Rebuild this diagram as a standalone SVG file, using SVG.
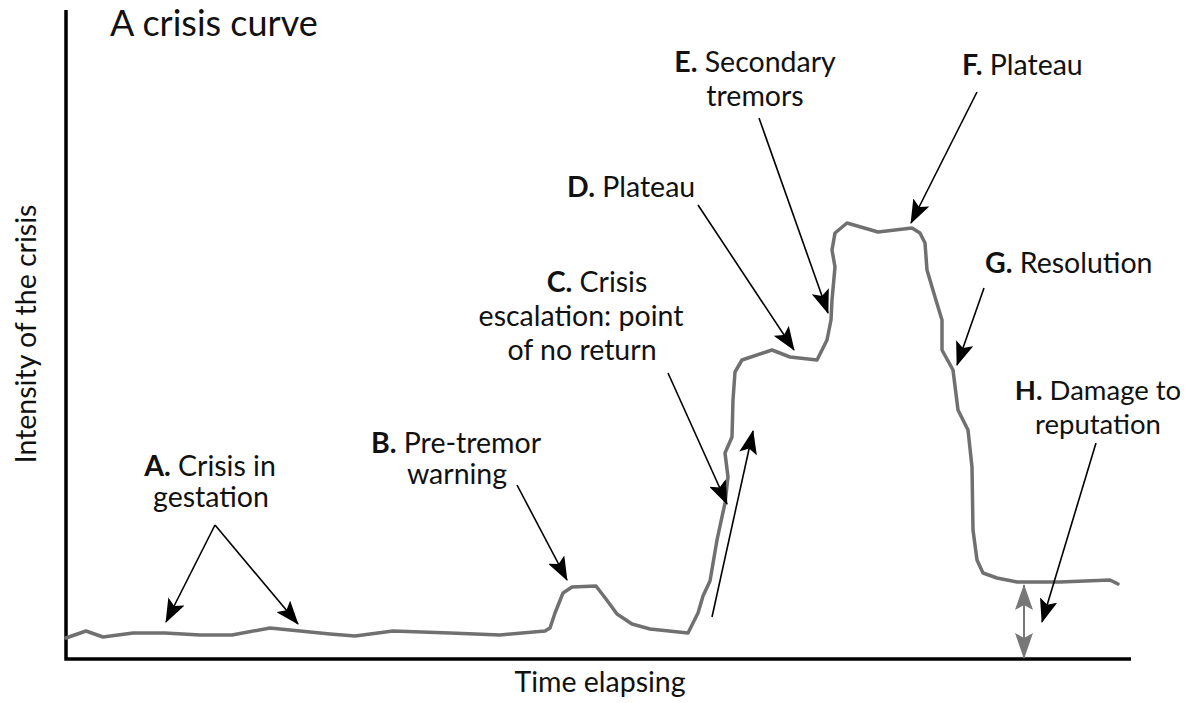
<svg xmlns="http://www.w3.org/2000/svg" width="1193" height="703" viewBox="0 0 1193 703">
<defs>
<style>
text{font-family:Lato,"Liberation Sans",sans-serif;fill:#111;font-size:28.5px}
.b{font-weight:bold}
.ax{stroke:#000;stroke-width:3.5;fill:none}
.curve{stroke:#707070;stroke-width:3.5;fill:none;stroke-linejoin:round;stroke-linecap:round}
.arr{stroke:#000;stroke-width:1.6;fill:none;marker-end:url(#ah)}
.dbl{stroke:#777;stroke-width:2;fill:none;marker-start:url(#gh);marker-end:url(#gh)}
</style>
<marker id="ah" markerUnits="userSpaceOnUse" markerWidth="24" markerHeight="18" viewBox="0 0 24 18" refX="23" refY="9" orient="auto">
<path d="M0,0 L24,9 L0,18 L5,9 z" fill="#000"/>
</marker>
<marker id="gh" markerUnits="userSpaceOnUse" markerWidth="26" markerHeight="18" viewBox="0 0 26 18" refX="25" refY="9" orient="auto-start-reverse">
<path d="M0,0 L26,9 L0,18 L5,9 z" fill="#777"/>
</marker>
</defs>
<rect width="1193" height="703" fill="#fff"/>
<g id="axes">
<path class="ax" d="M66,10 V659 H1131"/>
</g>
<g id="curve">
<path class="curve" d="M66,638 L86,631 L103,637 L133,633 L165,633 L200,635 L232,635 L270,628 L300,631 L330,634 L355,636 L393,631 L450,633 L500,635 L545,631 L550,628 L555,613 L563,593 L572,587 L596,586 L606,599 L617,614 L632,624 L650,629 L688,633 L698,613 L703,596 L710,581 L717,540 L725,503 L728,477 L725,453 L732,437 L733,400 L735,372 L742,360 L772,350 L790,357 L817,360 L827,340 L831,320 L832,300 L835,267 L832,250 L835,233 L847,223 L878,232 L912,228 L920,233 L925,243 L927,270 L935,297 L942,320 L942,350 L953,370 L958,410 L968,430 L972,467 L973,530 L977,560 L983,573 L997,578 L1017,582 L1060,582 L1110,580 L1118,584"/>
</g>
<g id="connectors">
<path class="arr" d="M215,525 L166,622"/>
<path class="arr" d="M215,525 L298,624"/>
<path class="arr" d="M517,485 L567,580"/>
<path class="arr" d="M668,373 L727,504"/>
<path class="arr" d="M712,617 L753,431"/>
<path class="arr" d="M698,205 L794,350"/>
<path class="arr" d="M759,118 L828,313"/>
<path class="arr" d="M977,92 L911,223"/>
<path class="arr" d="M984,288 L957,365"/>
<path class="arr" d="M1096,443 L1042,622"/>
<path class="dbl" d="M1024,585 V658"/>
</g>
<g id="title"><text x="110" y="36" style="font-size:36px">A crisis curve</text></g>
<g id="ylabel"><text transform="translate(36,334) rotate(-90)" text-anchor="middle">Intensity of the crisis</text></g>
<g id="xlabel"><text x="600" y="692" text-anchor="middle">Time elapsing</text></g>
<g id="label-a"><text x="210" y="476" text-anchor="middle"><tspan class="b">A.</tspan> Crisis in</text><text x="211" y="507" text-anchor="middle">gestation</text></g>
<g id="label-b"><text x="456" y="453" text-anchor="middle"><tspan class="b">B.</tspan> Pre-tremor</text><text x="457" y="484" text-anchor="middle">warning</text></g>
<g id="label-c"><text x="597" y="292" text-anchor="middle"><tspan class="b">C.</tspan> Crisis</text><text x="581" y="326" text-anchor="middle">escalation: point</text><text x="582" y="360" text-anchor="middle">of no return</text></g>
<g id="label-d"><text x="567" y="197"><tspan class="b">D.</tspan> Plateau</text></g>
<g id="label-e"><text x="755" y="72" text-anchor="middle"><tspan class="b">E.</tspan> Secondary</text><text x="755" y="106" text-anchor="middle">tremors</text></g>
<g id="label-f"><text x="962" y="75"><tspan class="b">F.</tspan> Plateau</text></g>
<g id="label-g"><text x="985" y="273"><tspan class="b">G.</tspan> Resolution</text></g>
<g id="label-h"><text x="1098" y="400" text-anchor="middle" style="font-size:27.5px"><tspan class="b">H.</tspan> Damage to</text><text x="1098" y="434" text-anchor="middle" style="font-size:27.5px">reputation</text></g>
</svg>
